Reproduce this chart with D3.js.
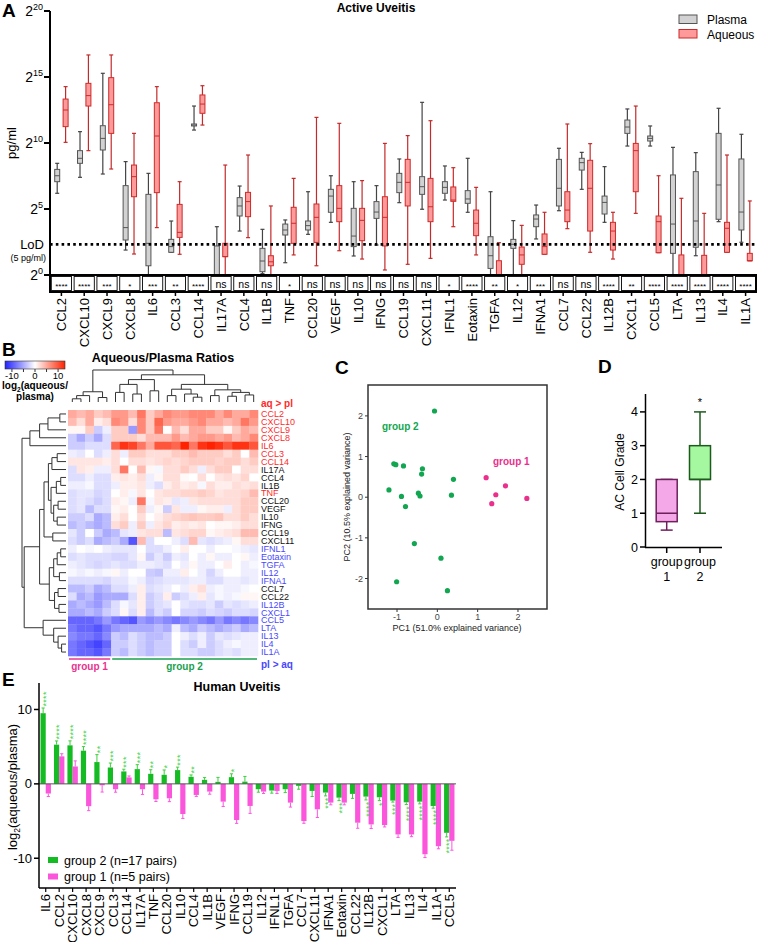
<!DOCTYPE html>
<html><head><meta charset="utf-8">
<script src="https://cdn.jsdelivr.net/npm/d3@7"></script>
<style>body{margin:0;background:#fff} svg{display:block;font-family:Arial,"Liberation Sans",Helvetica,sans-serif}</style>
</head><body><svg id="c" width="757" height="942"></svg>
<script>
// ================= DATA =================
// Panel A : log2(pg/ml) box statistics [min, q1, median, q3, max]
const boxCats = ["CCL2","CXCL10","CXCL9","CXCL8","IL6","CCL3","CCL14","IL17A","CCL4","IL1B","TNF","CCL20","VEGF","IL10","IFNG","CCL19","CXCL11","IFNL1","Eotaxin","TGFA","IL12","IFNA1","CCL7","CCL22","IL12B","CXCL1","CCL5","LTA","IL13","IL4","IL1A"];
const plasmaStats = [
 [6.19,7.07,7.52,8.0,8.46],[7.4,8.46,8.84,9.42,10.86],[7.65,9.47,10.35,11.31,15.28],[1.89,2.65,3.59,6.77,8.59],
 [0,0.7,2.4,6.11,7.7],[1.72,1.72,2.15,2.7,4.09],[10.98,11.29,11.36,11.44,12.8],[0,0,0,2.2,3.66],
 [3.33,4.47,5.23,5.86,6.74],[0.1,0.25,1.06,2.02,3.46],[0.93,3.03,3.41,3.86,4.17],[3.08,3.41,3.74,4.09,6.31],
 [3.99,4.75,5.98,6.49,7.52],[1.44,2.15,2.95,5.05,7.07],[2.27,4.29,4.77,5.56,6.77],[5.48,6.24,7.02,7.7,8.79],
 [4.98,6.11,6.69,7.45,13.08],[5.68,6.19,6.64,7.07,8.26],[4.75,5.43,5.76,6.39,8.84],[0,0.5,1.46,2.9,6.31],
 [0,2.02,2.33,2.7,4.12],[2.73,3.66,4.24,4.55,5.3],[4.87,5.23,6.57,8.76,9.6],[6.49,7.95,8.51,8.84,9.29],
 [3.99,4.62,5.5,5.98,8.21],[9.77,10.73,11.21,11.74,12.58],[9.77,10.15,10.35,10.53,11.29],[0,1.64,3.86,7.58,9.67],
 [1.46,2.1,4.09,7.83,9.27],[4.04,4.22,6.82,10.73,12.63],[2.48,3.41,4.77,8.79,10.66]
];
const aqueousStats = [
 [10.05,11.24,12.5,13.33,14.27],[9.42,12.8,13.59,14.52,16.67],[8.03,10.73,12.9,14.95,16.67],[1.59,5.93,7.45,8.33,10.73],
 [3.59,6.24,10.53,13.05,14.27],[1.57,2.85,3.23,5.35,7.07],[11.36,12.25,12.95,13.64,14.34],[0,1.39,1.39,2.4,8.33],
 [2.83,4.42,5.56,6.26,9.09],[0,0.7,1.0,1.46,5.23],[1.52,2.4,3.92,5.13,7.32],[0.7,2.47,4.37,5.38,11.94],
 [1.84,4.04,5.05,6.77,11.49],[1.21,2.6,4.14,5.05,7.15],[0.38,2.2,4.37,5.93,9.97],[0.81,5.23,7.02,8.76,10.56],
 [1.26,4.04,5.17,7.32,11.69],[3.66,5.58,5.68,6.67,8.13],[1.52,2.98,3.92,4.92,6.64],[0,0,0,1.08,2.45],
 [0,0.81,1.52,2.12,3.76],[1.57,1.57,2.15,3.11,4.75],[3.51,4.04,4.92,6.31,11.44],[1.72,3.33,6.57,8.69,9.95],
 [1.21,1.89,3.33,3.99,4.75],[4.67,6.31,9.42,9.97,12.8],[1.69,1.69,4.04,4.47,7.52],[0,0,0,1.52,5.81],
 [0,0,0,1.49,4.67],[1.72,1.72,3.54,3.99,9.09],[1.08,1.08,1.08,1.64,5.61]
];
const sigLabels = ["****","****","***","*","***","**","****","ns","ns","ns","*","ns","ns","ns","ns","ns","ns","*","****","**","*","***","ns","ns","****","**","****","****","****","****","****"];
const yTicksA = [0,5,10,15,20];
const lodPgMl = 5;

// Panel B : heatmap log2(aqueous/plasma), 31 cytokines x 22 patients
const heatRows = ["CCL2","CXCL10","CXCL9","CXCL8","IL6","CCL3","CCL14","IL17A","CCL4","IL1B","TNF","CCL20","VEGF","IL10","IFNG","CCL19","CXCL11","IFNL1","Eotaxin","TGFA","IL12","IFNA1","CCL7","CCL22","IL12B","CXCL1","CCL5","LTA","IL13","IL4","IL1A"];
const heatRowClass = ["up","up","up","up","up","up","up","ns","ns","ns","up","ns","ns","ns","ns","ns","ns","down","down","down","down","down","ns","ns","down","down","down","down","down","down","down"];
const heatValues = [
 [5,4,5,3,4,6,6,4,8,3,5,7,6,6,7,7,7,5,7,5,5,7],
 [4,2,5,1,2,7,6,2,7,3,9,6,5,5,6,7,5,5,4,5,8,6],
 [0.5,0.5,3,-3,-1,3,3,-6,7,3,8,0,4,2,5,5,3,3,0.5,3,5,4],
 [-3,-5,-3,-5,-2,3,3,3,2,4,4,4,6,4,5,6,6,5,6,4,5,7],
 [-3,-3,-2,-2,-2,9,12,11,8,5,10,10,9,13,8,12,13,12,10,12,12,10],
 [-1,-1.5,0,-2,-1,2,-1,3,3,2,2,2,3,3,4,3,3,3,2,3,0,4],
 [1.5,1.5,1.5,1.5,1,2,0,2,2,1.5,2,2.5,2,2.5,3,3,3,2.5,3,3,2,3],
 [-2,1.5,1,-1,-1,2,8,0,4,0.5,-0.5,2,2,3,2,-1,2,3,3,0,2,2],
 [-2,-2,-1,-2,-2,1,1.5,1,2,-1,0.5,2,2,0.3,0,2,0,1.5,2,1.5,2.5,0],
 [-1,-1,-0.5,-2,-2,-1,1,1,1.5,-1,-2,1,2,1,1.5,-0.5,2,1,1,2,1.5,2],
 [-2,-1.5,-1.5,-2.5,-2,0,1,-0.5,1.5,0,1.5,2,2,2.5,2.5,3,2.5,1.5,2,2,2.5,4],
 [-2,-1.5,-2,-3,-2,1,0.5,-1,8,-0.5,1.5,1,-1.5,-1,1.5,2,2,2,2,2,3,3],
 [-2,-1.5,-4,-2,-2,0.5,1,0,3,-1,0.5,-3,1.5,-1,-1,0.5,1,1,-1,2,3,3],
 [-3,-3,-2,-5,-4,1,2,0,2,0,1,2,2.5,3,3.5,3,3,3.5,2,2,3,2],
 [-4,-3,-4,-5,-4,2,3,-1,3,-1,1.5,2.5,1,1.5,1,1.5,0,0.5,0.5,1,2,2],
 [-1.5,-3,0,-3,-5,-4,-1.5,-1,1.5,2,2,-4,1.5,2,2.5,2.5,0.5,1,1.5,2,4,4],
 [-2,-3,-2,-5,-4,-3,-5,-10,4,-2,0,0,-1,-2,4,-1.5,-2,-1.5,-1,0.5,2,2],
 [-1,0,-0.5,0,-1,-1.5,-1.5,-1.5,0,-2,-2,-1,0,1,0,0,-1,0,0,-0.5,-1,-1.5],
 [-2,-1.5,-2,-2,-2,-2.5,-2.5,-1.5,0.5,-3,-1.5,-3,-1,-1.5,0,-1,0.5,-1,-1,0,0.5,-1],
 [-1,-1.5,-2,-2.5,-2,-1.5,-2,-2,-1,-1,-1.5,-2,0,-1,0.5,-1,-1,0,1,0,-1,-0.5],
 [-0.5,-1,-0.5,-1,-0.5,0.5,-1,0,0,-3,-3.5,-1,-1,1,0,-1,-2.5,-1,0,0,-1,-1],
 [-2,-2,-2,-2,-2.5,-1.5,-1.5,-0.5,-1,-2.5,-2,-1.5,-1.5,-1.5,-1,-1,-2,-2,-1,-1,-1.5,-1],
 [-4,-4,-3,-5,-4,-2,-2,-1,1,-2,-1.5,-1,0,-1,1,2,-1,-0.5,-1,-1,-0.5,0],
 [-2,-5,-4,-6,-5,-5,-5,-2,1,-3,-2,1,-3,-2,-1,1,-1.5,-0.5,-1,-0.5,0.5,0.5],
 [-5,-4,-5,-6,-4,-2,-0.5,-1.5,1,-3,-2,-1.5,0,-1.5,-2,-2,-1.5,-3,-1.5,-2,-1.5,-1],
 [-5,-5,-4,-5,-3,-2,0.5,-2,1,-4,-2,-3,0,-2.5,-2.5,-3,-2,-2.5,-3,-2,-2,-2.5],
 [-9,-9,-9,-8,-6,-8,-9,-10,-6,-7,-6,-7,-8,-7,-6,-7,-8,-6,-8,-7,-8,-7],
 [-8,-9,-9,-10,-8,-6,-5,-5,-5,-5,-4,-5,-1,-4,-5,-3,-4,-5,-4,-3,-5,-4],
 [-7,-8,-8,-9,-7,-3,-4,-2,-3,-4,-4,-3,0,-1,-2,-1,-3,-1.5,-2,-1.5,-1,-1],
 [-8,-9,-10,-11,-9,-3,-3,-2,-3,-4,-3,-3,0,-2,-3,-1,-3,-2,-1,-0.5,-1,-1],
 [-8,-9,-9,-10,-8,-3,-4,-2,-3,-4,-3,-3,0,-2,-2,-3,-3,-2,-1.5,-2,-1,-1]
];
const colGroups = [1,1,1,1,1,2,2,2,2,2,2,2,2,2,2,2,2,2,2,2,2,2];
// dendrograms: [left, right, height] ; leaves = index
const colTree = [
  [[[0,1,0.1],2,0.2],[3,4,0.14],0.32],
  [ [[[5,6,0.3],[7,8,0.25],0.55],[9,10,0.35],0.7],
    [[[11,12,0.2],[13,[14,15,0.15],0.25],0.4],[[16,17,0.2],[[18,19,0.18],[20,21,0.22],0.3],0.38],0.55],
    0.85],
  1.0];
const rowTree = [
  [[[[0,1,0.14],2,0.41],3,0.6],4,0.82],
  [ [ [[[[5,6,0.2],7,0.32],[[[8,9,0.12],10,0.22],[[11,12,0.18],[13,14,0.2],0.28],0.34],0.4],[15,16,0.3],0.5],
      [[[[17,18,0.12],19,0.2],[20,21,0.15],0.28],[[22,23,0.18],[24,25,0.16],0.26],0.38],
      0.6],
    [26,[27,[28,[29,30,0.1],0.18],0.28],0.52],
    0.95],
  1.0];
const colorbarTicks = [-10,-5,0,5,10];

// Panel C : PCA
const pcaGroup2 = [[-0.07,2.12],[-1.08,0.82],[-1.03,0.80],[-0.84,0.77],[-0.37,0.70],[-0.39,0.57],[0.40,0.44],[-1.20,0.18],[-0.89,0.02],[-0.47,0.10],[-0.43,0.03],[0.35,0.05],[-0.79,-0.23],[-0.57,-1.14],[0.09,-1.50],[-1.01,-2.08],[0.25,-2.30]];
const pcaGroup1 = [[1.21,0.48],[1.69,0.28],[1.45,0.06],[1.35,-0.16],[2.22,-0.03]];
const pcaXTicks = [-1,0,1,2];
const pcaYTicks = [-2,-1,0,1,2];

// Panel D : AC cell grade [min,q1,median,q3,max]
const gradeGroups = ["group 1","group 2"];
const gradeStats = [[0.5,0.75,1,2,2],[1,2,2,3,4]];
const gradeSig = ["","*"];
const gradeTicks = [0,1,2,3,4];

// Panel E : mean log2(aqueous/plasma) with SEM
const eCats = ["IL6","CCL2","CXCL10","CXCL8","CXCL9","CCL3","CCL14","IL17A","TNF","CCL20","IL10","CCL4","IL1B","VEGF","IFNG","CCL19","IL12","IFNL1","TGFA","CCL7","CXCL11","IFNA1","Eotaxin","CCL22","IL12B","CXCL1","LTA","IL13","IL4","IL1A","CCL5"];
const g2Mean = [9.5,5.27,5.18,4.46,2.93,2.2,1.67,1.98,1.35,1.22,1.85,0.95,0.54,0.27,0.9,0.3,-0.72,-0.9,-0.72,-0.27,-0.95,-1.17,-1.85,-1.35,-1.71,-1.8,-2.25,-2.48,-2.39,-2.97,-6.58];
const g2Err  = [0.7,0.5,0.6,0.55,1.0,0.6,0.3,0.6,0.55,0.65,0.4,0.25,0.3,0.6,0.45,0.7,0.4,0.35,0.45,0.45,0.75,0.45,0.4,0.6,0.45,0.45,0.2,0.3,0.3,0.3,0.55];
const g1Mean = [-1.3,3.7,2.34,-3.0,-0.2,-0.72,0.86,-0.72,-2.07,-1.94,-4.05,-1.49,-1.04,-2.39,-4.86,-2.97,-1.04,-0.95,-2.52,-5.0,-3.42,-2.52,-2.52,-5.22,-5.45,-5.54,-6.8,-6.8,-9.46,-8.38,-7.66];
const g1Err  = [0.4,0.35,0.75,0.6,0.9,0.4,0.2,0.7,0.3,0.45,0.6,0.2,0.35,0.65,0.45,1.0,0.25,0.35,0.6,0.3,1.1,0.3,0.3,0.75,0.55,0.25,0.4,0.3,0.45,0.35,1.26];
const g2Stars = ["****","****","****","****","**","***","***","***","**","*","***","**","","","*","","","","","","","***","***","","****","*","***","****","****","****","****"];
const eTicks = [-10,0,10];

// ================= DRAW =================
const svg = d3.select("#c");
function letter(t,x,y){svg.append("text").attr("x",x).attr("y",y).attr("font-size",19).attr("font-weight","bold").text(t);}

// ---------- Panel A ----------
const xA = d3.scaleBand().domain(boxCats).range([50,757]);
const yA = d3.scaleLinear().domain([0,20]).range([275,11]);
const gA = svg.append("g");
letter("A",2,17);
gA.append("text").attr("x",376).attr("y",12).attr("text-anchor","middle").attr("font-size",12).attr("font-weight","bold").text("Active Uveitis");

function drawBox(g, cx, w, s, fill, stroke, wcol, yS){
  const [mn,q1,md,q3,mx] = s;
  g.append("line").attr("x1",cx).attr("x2",cx).attr("y1",yS(mx)).attr("y2",yS(q3)).attr("stroke",wcol).attr("stroke-width",1.2);
  g.append("line").attr("x1",cx).attr("x2",cx).attr("y1",yS(q1)).attr("y2",yS(mn)).attr("stroke",wcol).attr("stroke-width",1.2);
  g.append("line").attr("x1",cx-2).attr("x2",cx+2).attr("y1",yS(mx)).attr("y2",yS(mx)).attr("stroke",wcol).attr("stroke-width",1.2);
  if(mn>0.05) g.append("line").attr("x1",cx-2).attr("x2",cx+2).attr("y1",yS(mn)).attr("y2",yS(mn)).attr("stroke",wcol).attr("stroke-width",1.2);
  g.append("rect").attr("x",cx-w/2).attr("width",w).attr("y",yS(q3)).attr("height",Math.max(0.01,yS(q1)-yS(q3)))
    .attr("fill",fill).attr("stroke",stroke).attr("stroke-width",1);
  g.append("line").attr("x1",cx-w/2).attr("x2",cx+w/2).attr("y1",yS(md)).attr("y2",yS(md)).attr("stroke",stroke).attr("stroke-width",1);
}
boxCats.forEach((c,i)=>{
  const cx = xA(c)+xA.bandwidth()/2;
  drawBox(gA, cx-4.2, 5, plasmaStats[i], "#d2d2d2", "#555", "#444", yA);
  drawBox(gA, cx+4.2, 5, aqueousStats[i], "#ff9a9a", "#cc2a2a", "#c42a2a", yA);
});
// LoD line
gA.append("line").attr("x1",50).attr("x2",757).attr("y1",yA(Math.log2(lodPgMl))).attr("y2",yA(Math.log2(lodPgMl)))
  .attr("stroke","#000").attr("stroke-width",2.6).attr("stroke-dasharray","2.6,3.2");
gA.append("text").attr("x",44).attr("y",yA(Math.log2(lodPgMl))+4.5).attr("text-anchor","end").attr("font-size",13).text("LoD");
gA.append("text").attr("x",46).attr("y",261).attr("text-anchor","end").attr("font-size",9).text("(5 pg/ml)");
// y axis
gA.append("line").attr("x1",50).attr("x2",50).attr("y1",yA(20)).attr("y2",yA(0)).attr("stroke","#000").attr("stroke-width",2);
yTicksA.forEach(t=>{
  gA.append("line").attr("x1",44).attr("x2",50).attr("y1",yA(t)).attr("y2",yA(t)).attr("stroke","#000").attr("stroke-width",2);
  const tx = gA.append("text").attr("x",43).attr("y",yA(t)+5).attr("text-anchor","end").attr("font-size",14);
  tx.append("tspan").text("2");
  tx.append("tspan").attr("dy",-6).attr("font-size",9).text(t);
});
gA.append("text").attr("transform","translate(16,143) rotate(-90)").attr("text-anchor","middle").attr("font-size",13).text("pg/ml");
// significance table
boxCats.forEach((c,i)=>{
  const x0 = xA(c);
  gA.append("rect").attr("x",x0+1.3).attr("y",276.5).attr("width",xA.bandwidth()-2.6).attr("height",14)
    .attr("fill","#fff").attr("stroke","#000").attr("stroke-width",0.9);
  const s = sigLabels[i];
  gA.append("text").attr("x",x0+xA.bandwidth()/2).attr("y", s==="ns"?288:289).attr("text-anchor","middle")
    .attr("font-size", s==="ns"?10.5:8).text(s);
  const cx = x0+xA.bandwidth()/2;
  gA.append("line").attr("x1",cx).attr("x2",cx).attr("y1",292).attr("y2",296).attr("stroke","#000").attr("stroke-width",1.5);
  gA.append("text").attr("transform",`translate(${cx},298) rotate(-90)`).attr("text-anchor","end")
    .attr("dy","0.36em").attr("font-size",13).text(c);
});
gA.append("rect").attr("x",50).attr("y",275).attr("width",706).attr("height",17).attr("fill","none").attr("stroke","#000").attr("stroke-width",2);
// legend
[["Plasma","#d2d2d2","#555"],["Aqueous","#ff9a9a","#cc2a2a"]].forEach((d,i)=>{
  gA.append("rect").attr("x",679).attr("y",15+i*14.5).attr("width",18).attr("height",8.5).attr("fill",d[1]).attr("stroke",d[2]);
  gA.append("text").attr("x",707).attr("y",24+i*14.5).attr("font-size",12).text(d[0]);
});

// ---------- Panel B ----------
const gB = svg.append("g");
letter("B",2,356);
gB.append("text").attr("x",163).attr("y",362).attr("text-anchor","middle").attr("font-size",12.5).attr("font-weight","bold").text("Aqueous/Plasma Ratios");
const hcol = d3.scaleLinear().domain([-13,0,13]).range(["#2222ff","#ffffff","#ff2200"]).clamp(true);
const cbX = d3.scaleLinear().domain([-13,13]).range([5,65]);
const grad = svg.append("defs").append("linearGradient").attr("id","cbg");
d3.range(-13,13.01,1).forEach(v=>grad.append("stop").attr("offset",(v+13)/26).attr("stop-color",hcol(v)));
gB.append("rect").attr("x",5).attr("y",361).attr("width",60).attr("height",8).attr("fill","url(#cbg)").attr("stroke","#333").attr("stroke-width",0.6);
colorbarTicks.forEach(t=>{
  gB.append("line").attr("x1",cbX(t)).attr("x2",cbX(t)).attr("y1",369).attr("y2",372).attr("stroke","#333");
  if(t%10===0) gB.append("text").attr("x",cbX(t)).attr("y",379).attr("text-anchor","middle").attr("font-size",9.5).text(t);
});
const lt = gB.append("text").attr("x",35).attr("y",389).attr("text-anchor","middle").attr("font-size",10).attr("font-weight","bold");
lt.append("tspan").text("log");lt.append("tspan").attr("font-size",6.5).attr("dy",2.5).text("2");lt.append("tspan").attr("dy",-2.5).text("(aqueous/");
gB.append("text").attr("x",35).attr("y",400).attr("text-anchor","middle").attr("font-size",10).attr("font-weight","bold").text("plasma)");

const hx = d3.scaleBand().domain(d3.range(22)).range([68,258]);
const hy = d3.scaleBand().domain(d3.range(31)).range([410,656]);
heatValues.forEach((row,r)=>row.forEach((v,c)=>{
  gB.append("rect").attr("x",hx(c)).attr("y",hy(r)).attr("width",hx.bandwidth()+0.3).attr("height",hy.bandwidth()+0.3).attr("fill",hcol(v));
}));
const rowColor = {up:"#ff2a2a", ns:"#111", down:"#4848ff"};
heatRows.forEach((n,r)=>{
  gB.append("text").attr("x",261).attr("y",hy(r)+hy.bandwidth()/2).attr("dy","0.35em").attr("font-size",9).attr("fill",rowColor[heatRowClass[r]]).text(n);
});
gB.append("text").attr("x",261).attr("y",407).attr("font-size",10).attr("font-weight","bold").attr("fill","#ff2a2a").text("aq > pl");
gB.append("text").attr("x",261).attr("y",668).attr("font-size",10).attr("font-weight","bold").attr("fill","#4848ff").text("pl > aq");
// group bars
[[1,"group 1","#e8338f"],[2,"group 2","#1aa050"]].forEach(([g,lab,col])=>{
  const idx = colGroups.map((v,i)=>v===g?i:-1).filter(i=>i>=0);
  const x1 = hx(idx[0])+1, x2 = hx(idx[idx.length-1])+hx.bandwidth()-1;
  gB.append("line").attr("x1",x1).attr("x2",x2).attr("y1",659).attr("y2",659).attr("stroke",col).attr("stroke-width",1.6);
  gB.append("text").attr("x",(x1+x2)/2).attr("y",670).attr("text-anchor","middle").attr("font-size",10).attr("font-weight","bold").attr("fill",col).text(lab);
});
// dendrograms
const colH = d3.scaleLinear().domain([0,1]).range([402,370]);
function drawCol(node){
  if(typeof node==="number") return {x:hx(node)+hx.bandwidth()/2, y:colH(0)};
  const a=drawCol(node[0]), b=drawCol(node[1]), y=colH(node[2]);
  gB.append("path").attr("d",`M${a.x},${a.y}V${y}H${b.x}V${b.y}`).attr("fill","none").attr("stroke","#333").attr("stroke-width",1);
  return {x:(a.x+b.x)/2, y};
}
drawCol(colTree);
const rowH = d3.scaleLinear().domain([0,1]).range([66,22]);
function drawRow(node){
  if(typeof node==="number") return {x:rowH(0), y:hy(node)+hy.bandwidth()/2};
  const a=drawRow(node[0]), b=drawRow(node[1]), x=rowH(node[2]);
  gB.append("path").attr("d",`M${a.x},${a.y}H${x}V${b.y}H${b.x}`).attr("fill","none").attr("stroke","#333").attr("stroke-width",1);
  return {x, y:(a.y+b.y)/2};
}
drawRow(rowTree);

// ---------- Panel C ----------
const gC = svg.append("g");
letter("C",335,374);
const xC = d3.scaleLinear().domain([-1.72,2.72]).range([368,547]);
const yC = d3.scaleLinear().domain([-2.75,2.76]).range([609,385]);
gC.append("rect").attr("x",368).attr("y",385).attr("width",179).attr("height",224).attr("fill","none").attr("stroke","#333").attr("stroke-width",1.5);
pcaXTicks.forEach(t=>{
  gC.append("line").attr("x1",xC(t)).attr("x2",xC(t)).attr("y1",609).attr("y2",612).attr("stroke","#333");
  gC.append("text").attr("x",xC(t)).attr("y",620).attr("text-anchor","middle").attr("font-size",9).attr("fill","#444").text(t);
});
pcaYTicks.forEach(t=>{
  gC.append("line").attr("x1",365).attr("x2",368).attr("y1",yC(t)).attr("y2",yC(t)).attr("stroke","#333");
  gC.append("text").attr("x",363).attr("y",yC(t)+3).attr("text-anchor","end").attr("font-size",9).attr("fill","#444").text(t);
});
gC.append("text").attr("x",457).attr("y",631).attr("text-anchor","middle").attr("font-size",9).attr("fill","#222").text("PC1 (51.0% explained variance)");
gC.append("text").attr("transform",`translate(350,497) rotate(-90)`).attr("text-anchor","middle").attr("font-size",9).attr("fill","#222").text("PC2 (10.5% explained variance)");
pcaGroup2.forEach(p=>gC.append("circle").attr("cx",xC(p[0])).attr("cy",yC(p[1])).attr("r",2.6).attr("fill","#12a650"));
pcaGroup1.forEach(p=>gC.append("circle").attr("cx",xC(p[0])).attr("cy",yC(p[1])).attr("r",2.6).attr("fill","#ea2f8c"));
gC.append("text").attr("x",382).attr("y",430).attr("font-size",10).attr("font-weight","bold").attr("fill","#12a650").text("group 2");
gC.append("text").attr("x",493).attr("y",465).attr("font-size",10).attr("font-weight","bold").attr("fill","#ea2f8c").text("group 1");

// ---------- Panel D ----------
const gD = svg.append("g");
letter("D",598,373);
const yD = d3.scaleLinear().domain([0,4.53]).range([547,394]);
const xD = d3.scalePoint().domain(gradeGroups).range([666.7,700]);
gD.append("line").attr("x1",645.5).attr("x2",645.5).attr("y1",394).attr("y2",547.5).attr("stroke","#000").attr("stroke-width",1.5);
gD.append("line").attr("x1",645).attr("x2",722).attr("y1",547.5).attr("y2",547.5).attr("stroke","#000").attr("stroke-width",1.5);
gradeTicks.forEach(t=>{
  gD.append("line").attr("x1",640).attr("x2",645.5).attr("y1",yD(t)).attr("y2",yD(t)).attr("stroke","#000").attr("stroke-width",1.5);
  gD.append("text").attr("x",638).attr("y",yD(t)+4.5).attr("text-anchor","end").attr("font-size",12.5).text(t);
});
gD.append("text").attr("transform","translate(624,472) rotate(-90)").attr("text-anchor","middle").attr("font-size",12).text("AC Cell Grade");
const dStyle = [["#f5a8e8","#6e1f5c"],["#a5f7a0","#1d5a1d"]];
gradeGroups.forEach((g,i)=>{
  const cx = xD(g), [mn,q1,md,q3,mx] = gradeStats[i], col = dStyle[i][1], w = 21;
  gD.append("line").attr("x1",cx).attr("x2",cx).attr("y1",yD(mx)).attr("y2",yD(q3)).attr("stroke",col).attr("stroke-width",1.5);
  gD.append("line").attr("x1",cx).attr("x2",cx).attr("y1",yD(q1)).attr("y2",yD(mn)).attr("stroke",col).attr("stroke-width",1.5);
  [mn,mx].forEach(v=>gD.append("line").attr("x1",cx-6).attr("x2",cx+6).attr("y1",yD(v)).attr("y2",yD(v)).attr("stroke",col).attr("stroke-width",1.5));
  gD.append("rect").attr("x",cx-w/2).attr("y",yD(q3)).attr("width",w).attr("height",yD(q1)-yD(q3)).attr("fill",dStyle[i][0]).attr("stroke",col).attr("stroke-width",1.5);
  gD.append("line").attr("x1",cx-w/2).attr("x2",cx+w/2).attr("y1",yD(md)).attr("y2",yD(md)).attr("stroke",col).attr("stroke-width",1.5);
  gD.append("line").attr("x1",cx).attr("x2",cx).attr("y1",547.5).attr("y2",553).attr("stroke","#000").attr("stroke-width",1.5);
  const parts = g.split(" ");
  gD.append("text").attr("x",cx).attr("y",566).attr("text-anchor","middle").attr("font-size",12.5).text(parts[0]);
  gD.append("text").attr("x",cx).attr("y",581).attr("text-anchor","middle").attr("font-size",12.5).text(parts[1]);
  if(gradeSig[i]) gD.append("text").attr("x",cx).attr("y",yD(mx)-6).attr("text-anchor","middle").attr("font-size",11).text(gradeSig[i]);
});

// ---------- Panel E ----------
const gE = svg.append("g");
letter("E",2,686);
gE.append("text").attr("x",237).attr("y",691).attr("text-anchor","middle").attr("font-size",12.5).attr("font-weight","bold").text("Human Uveitis");
const xE = d3.scaleBand().domain(eCats).range([39,456]);
const yE = d3.scaleLinear().domain([-14,13.56]).range([888,683]);
const bw = 5.2;
const gCol = "#14bb22", mCol = "#fb55dc", gErr = "#3fcf3f", mErr = "#ff55e0";
function errBar(x, m, e, col){
  const end = m>=0 ? m+e : m-e;
  gE.append("line").attr("x1",x).attr("x2",x).attr("y1",yE(m)).attr("y2",yE(end)).attr("stroke",col).attr("stroke-width",1);
  gE.append("line").attr("x1",x-1.6).attr("x2",x+1.6).attr("y1",yE(end)).attr("y2",yE(end)).attr("stroke",col).attr("stroke-width",1);
}
eCats.forEach((c,i)=>{
  const cx = xE(c)+xE.bandwidth()/2;
  const gx = cx-bw, mx = cx;
  gE.append("rect").attr("x",gx).attr("width",bw).attr("y",yE(Math.max(0,g2Mean[i]))).attr("height",Math.abs(yE(g2Mean[i])-yE(0))).attr("fill",gCol);
  gE.append("rect").attr("x",mx).attr("width",bw).attr("y",yE(Math.max(0,g1Mean[i]))).attr("height",Math.abs(yE(g1Mean[i])-yE(0))).attr("fill",mCol);
  errBar(gx+bw/2, g2Mean[i], g2Err[i], gErr);
  errBar(mx+bw/2, g1Mean[i], g1Err[i], mErr);
  if(g2Stars[i]){
    const pos = g2Mean[i]>=0;
    const yy = pos ? yE(g2Mean[i]+g2Err[i])-1.5 : yE(g2Mean[i]-g2Err[i])+1.5;
    gE.append("text").attr("transform",`translate(${gx+bw/2},${yy}) rotate(-90)`).attr("text-anchor",pos?"start":"end")
      .attr("dy","0.62em").attr("font-size",9).attr("fill","#3fd23f").attr("letter-spacing",0.3).text(g2Stars[i]);
  }
  gE.append("line").attr("x1",cx).attr("x2",cx).attr("y1",888).attr("y2",892).attr("stroke","#000").attr("stroke-width",1.2);
  gE.append("text").attr("transform",`translate(${cx},894) rotate(-90)`).attr("text-anchor","end").attr("dy","0.36em").attr("font-size",13).text(c);
});
gE.append("line").attr("x1",39).attr("x2",456).attr("y1",yE(0)).attr("y2",yE(0)).attr("stroke","#555").attr("stroke-width",1);
gE.append("line").attr("x1",39).attr("x2",39).attr("y1",683).attr("y2",888).attr("stroke","#000").attr("stroke-width",1.5);
gE.append("line").attr("x1",39).attr("x2",456).attr("y1",888).attr("y2",888).attr("stroke","#000").attr("stroke-width",1.5);
eTicks.forEach(t=>{
  gE.append("line").attr("x1",34).attr("x2",39).attr("y1",yE(t)).attr("y2",yE(t)).attr("stroke","#000").attr("stroke-width",1.5);
  gE.append("text").attr("x",32).attr("y",yE(t)+4.5).attr("text-anchor","end").attr("font-size",13).text(t);
});
const yl = gE.append("text").attr("transform","translate(17,787) rotate(-90)").attr("text-anchor","middle").attr("font-size",13);
yl.append("tspan").text("log");yl.append("tspan").attr("font-size",8.5).attr("dy",3).text("2");yl.append("tspan").attr("dy",-3).text("(aqueous/plasma)");
[["group 2 (n=17 pairs)",gCol],["group 1 (n=5 pairs)",mCol]].forEach((d,i)=>{
  gE.append("rect").attr("x",48).attr("y",857+i*16.5).attr("width",10).attr("height",6).attr("fill",d[1]);
  gE.append("text").attr("x",64).attr("y",864.5+i*16.5).attr("font-size",12.5).text(d[0]);
});
</script></body></html>
